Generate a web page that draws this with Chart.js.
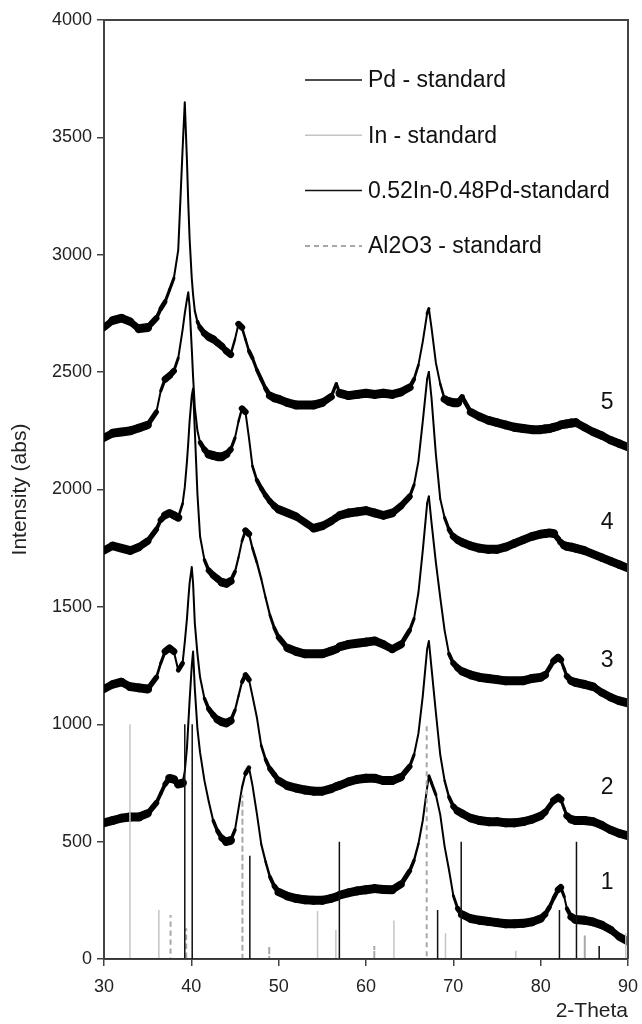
<!DOCTYPE html>
<html>
<head>
<meta charset="utf-8">
<script src="https://cdn.jsdelivr.net/npm/chart.js@4.4.0/dist/chart.umd.min.js"></script>
<style>
  html, body { margin: 0; padding: 0; background: #fff; }
</style>
</head>
<body>
<canvas id="xrd" width="642" height="1024"></canvas>
<script>
// 2-theta grid shared by the five patterns
const theta = [30,31,32,33,34,35,36,36.5,37,37.5,38,38.5,39,39.25,39.5,39.65,39.8,40.05,40.2,40.4,
  40.7,41,41.5,42,42.5,43,43.5,44,44.5,45,45.4,45.8,46.2,46.6,47,47.5,48,48.5,49,49.5,
  50,51,52,53,54,55,56,56.6,57,58,59,60,61,62,63,64,65,65.5,66,66.5,
  67,67.2,67.5,68,68.5,69,69.5,70,70.5,71,72,73,74,75,76,77,78,79,80,80.5,
  81,81.5,82,82.3,82.7,83,83.5,84,85,86,87,88,89,90];

const pattern1 = [580,590,600,605,605,620,665,705,745,770, 765,745,750,800,900,1000,1100,1250,1310,1150,
  980,880,760,670,590,545,515,500,505,550, 640,730,790,815,740,620,490,415,350,310,
  285,268,258,252,250,250,258,265,272,282, 290,295,300,296,295,318,375,420,490,590,
  730,780,750,700,615,480,380,270,215,190, 172,165,160,155,150,150,152,158,172,190,
  220,260,295,305,265,215,180,168,165,158, 145,125,95,75];
const pattern2 = [1150,1170,1180,1160,1155,1150,1200,1260,1310,1325, 1310,1230,1260,1350,1450,1530,1600,1670,1600,1430,
  1300,1200,1110,1065,1040,1020,1010,1005,1015,1060, 1120,1180,1210,1190,1120,1030,910,850,810,785,
  760,738,728,720,715,715,725,735,740,755, 765,770,770,760,760,775,820,870,960,1120,
  1320,1355,1240,1050,870,760,690,650,630,620, 600,590,585,585,580,580,585,595,610,625,
  650,675,688,680,640,610,595,590,590,585, 570,550,535,525];
const pattern3 = [1740,1760,1750,1740,1755,1780,1830,1870,1890,1900, 1890,1880,1940,2010,2120,2200,2290,2400,2430,2250,
  1980,1800,1700,1655,1635,1620,1605,1600,1610,1650, 1710,1780,1825,1810,1750,1690,1620,1540,1465,1410,
  1370,1325,1310,1300,1300,1300,1312,1320,1330,1340, 1345,1350,1355,1340,1320,1340,1400,1450,1560,1740,
  1940,1970,1860,1690,1540,1400,1300,1260,1240,1225, 1210,1200,1195,1190,1185,1185,1185,1195,1200,1210,
  1240,1270,1285,1275,1235,1205,1185,1178,1170,1160, 1135,1115,1100,1090];
const pattern4 = [2220,2240,2245,2250,2262,2275,2330,2420,2470,2485, 2505,2560,2680,2750,2810,2840,2780,2600,2480,2350,
  2250,2200,2170,2150,2145,2140,2140,2150,2170,2220, 2290,2345,2330,2220,2100,2040,2005,1975,1950,1930,
  1915,1900,1885,1860,1835,1845,1865,1880,1890,1900, 1905,1910,1900,1890,1900,1930,1970,2020,2120,2290,
  2470,2500,2390,2150,1960,1880,1830,1800,1785,1775, 1760,1750,1745,1745,1755,1770,1785,1800,1810,1812,
  1815,1812,1790,1775,1762,1758,1755,1750,1740,1725, 1710,1695,1680,1665];
const pattern5 = [2690,2720,2730,2715,2685,2690,2730,2770,2800,2850, 2900,3020,3450,3650,3400,3220,3070,2900,2830,2760,
  2715,2690,2665,2650,2640,2625,2610,2590,2575,2640, 2705,2690,2640,2590,2560,2510,2470,2430,2400,2390,
  2385,2370,2360,2360,2360,2370,2395,2450,2410,2400, 2405,2410,2405,2410,2405,2415,2435,2470,2530,2630,
  2750,2770,2690,2540,2450,2385,2375,2370,2370,2395, 2330,2310,2295,2285,2275,2265,2260,2255,2255,2258,
  2260,2265,2270,2275,2278,2280,2283,2285,2265,2245, 2230,2210,2195,2180];

const patternNames = ['1', '2', '3', '4', '5'];
const patternNameAt = [324, 728, 1273, 1857, 2368];   // intensity where each number sits
const patternNameTheta = 87.6;

// reference stick patterns
const pdPos = [40.1, 46.7, 68.2, 82.15, 86.7];
const pdInt = [1000, 440, 209, 209, 55];
const inPos = [32.97, 36.28, 54.45, 56.55, 63.2, 69.1, 77.15, 89.75];
const inInt = [1000, 209, 205, 124, 164, 110, 35, 110];
const inpdPos = [39.25, 56.95, 70.9, 84.1];
const inpdInt = [1000, 500, 500, 500];
const aloPos = [37.62, 39.42, 45.85, 48.92, 60.95, 66.95, 85.05];
const aloInt = [187, 131, 700, 55, 55, 1000, 100];

const yTicks = [0, 500, 1000, 1500, 2000, 2500, 3000, 3500, 4000];
const xTicks = [30, 40, 50, 60, 70, 80, 90];

const FONT = "'Liberation Sans', Arial, sans-serif";

function sticks(pos, h) {
    const pts = [{x: 30, y: 0}];
    pos.forEach((p, i) => {
        pts.push({x: p, y: 0}, {x: p, y: h[i]}, {x: p, y: 0});
    });
    pts.push({x: 90, y: 0});
    return pts;
}

function pattern(values) {
    return theta.map((t, i) => ({x: t, y: values[i]}));
}

// noisy trace drawn as a band: thick where flat, thin on steep flanks
const BAND = 9;
const bandWidth = c => {
    const dx = c.p1.x - c.p0.x, dy = c.p1.y - c.p0.y;
    const len = Math.hypot(dx, dy) || 1;
    return Math.max(2, BAND * Math.abs(dx) / len);
};

const standards = [
    {label: 'Pd - standard', data: sticks(pdPos, pdInt), borderColor: '#111', borderWidth: 1.5},
    {label: 'In - standard', data: sticks(inPos, inInt), borderColor: '#c4c4c4', borderWidth: 1.5},
    {label: '0.52In-0.48Pd-standard', data: sticks(inpdPos, inpdInt), borderColor: '#111', borderWidth: 1.5},
    {label: 'Al2O3 - standard', data: sticks(aloPos, aloInt), borderColor: '#a8a8a8', borderWidth: 2, borderDash: [5, 4]}
];

const patterns = [pattern1, pattern2, pattern3, pattern4, pattern5].map((v, i) => ({
    label: 'pattern ' + patternNames[i],
    data: pattern(v),
    borderColor: '#000',
    borderWidth: BAND,
    borderCapStyle: 'round',
    borderJoinStyle: 'round',
    segment: {borderWidth: bandWidth}
}));

const framePlugin = {
    id: 'frame',
    afterDatasetsDraw(chart) {
        const {ctx, chartArea: a} = chart;
        ctx.save();
        ctx.strokeStyle = '#444';
        ctx.lineWidth = 2;
        ctx.beginPath();
        ctx.moveTo(a.left, a.top);
        ctx.lineTo(a.right, a.top);
        ctx.lineTo(a.right, a.bottom);
        ctx.stroke();
        ctx.restore();
    }
};

const labelPlugin = {
    id: 'labels',
    afterDatasetsDraw(chart) {
        const {ctx, chartArea: a, scales} = chart;
        ctx.save();
        ctx.font = '23px ' + FONT;
        ctx.fillStyle = '#111';
        ctx.textBaseline = 'middle';
        // legend for the standards
        const x0 = a.left + 201, x1 = a.left + 258;
        chart.data.datasets.slice(0, 4).forEach((ds, i) => {
            const y = a.top + 60 + i * 55.3;
            ctx.strokeStyle = ds.borderColor;
            ctx.lineWidth = ds.borderWidth;
            ctx.setLineDash(ds.borderDash || []);
            ctx.beginPath();
            ctx.moveTo(x0, y);
            ctx.lineTo(x1, y);
            ctx.stroke();
            ctx.setLineDash([]);
            ctx.textAlign = 'left';
            ctx.fillText(ds.label, x1 + 6, y + 1);
        });
        // pattern numbers
        ctx.textAlign = 'center';
        patternNames.forEach((n, i) => {
            ctx.fillText(n, scales.x.getPixelForValue(patternNameTheta), scales.y.getPixelForValue(patternNameAt[i]));
        });
        ctx.restore();
    }
};

new Chart(document.getElementById('xrd'), {
    type: 'line',
    data: {datasets: standards.concat(patterns)},
    options: {
        responsive: false,
        animation: false,
        events: [],
        layout: {padding: {top: 20, right: 14, left: 0, bottom: 0}},
        elements: {point: {radius: 0}, line: {tension: 0}},
        plugins: {legend: {display: false}, tooltip: {enabled: false}},
        scales: {
            x: {
                type: 'linear', min: 30, max: 90,
                afterBuildTicks: s => { s.ticks = xTicks.map(v => ({value: v})); },
                afterFit: s => { s.height = 65; s.paddingLeft = 0; s.paddingRight = 0; },
                grid: {drawOnChartArea: false, color: '#444', lineWidth: 1.5, tickLength: 7},
                border: {color: '#444', width: 2},
                ticks: {color: '#222', font: {family: FONT, size: 18}, padding: 10, maxRotation: 0,
                        callback: v => String(v)},
                title: {display: true, text: '2-Theta', align: 'end', color: '#222',
                        font: {family: FONT, size: 21}, padding: {top: 0, bottom: 0}}
            },
            y: {
                type: 'linear', min: 0, max: 4000,
                afterBuildTicks: s => { s.ticks = yTicks.map(v => ({value: v})); },
                afterFit: s => { s.width = 104; s.paddingTop = 0; s.paddingBottom = 0; },
                grid: {drawOnChartArea: false, color: '#444', lineWidth: 1.5, tickLength: 7},
                border: {color: '#444', width: 2},
                ticks: {color: '#222', font: {family: FONT, size: 18}, padding: 5,
                        callback: v => String(v)},
                title: {display: true, text: 'Intensity (abs)', color: '#222',
                        font: {family: FONT, size: 21}, padding: {top: 8, bottom: 0}}
            }
        }
    },
    plugins: [framePlugin, labelPlugin]
});
</script>
</body>
</html>
